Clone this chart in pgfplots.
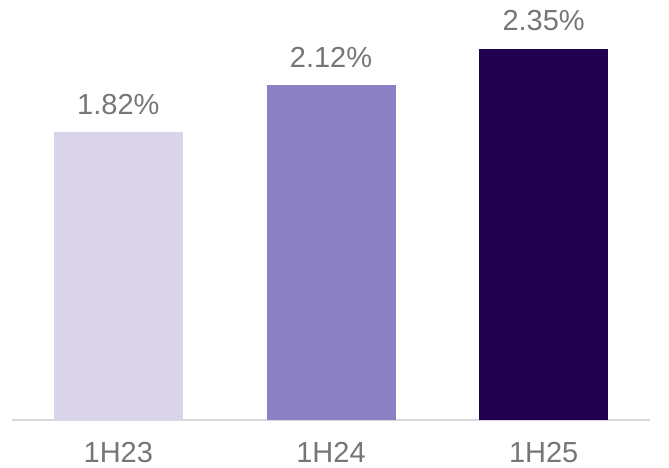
\documentclass[border=0pt]{standalone}
\usepackage{fontspec}
\setmainfont{Liberation Sans}
\usepackage{pgfplots}
\pgfplotsset{compat=1.18}
\definecolor{barA}{HTML}{D9D4EA}
\definecolor{barB}{HTML}{8C80C4}
\definecolor{barC}{HTML}{20004F}
\definecolor{txt}{HTML}{767676}
\definecolor{axl}{HTML}{D9D9D9}
\begin{document}
\begin{tikzpicture}
\useasboundingbox (0,0) rectangle (669pt,468pt);
\begin{axis}[
  at={(12pt,48pt)}, anchor=south west,
  width=638pt, height=420pt, scale only axis,
  xmin=-0.5, xmax=2.5, ymin=0, ymax=2.658,
  clip=false,
  axis x line*=bottom,
  axis line style={draw=axl, line width=1.2pt, -},
  hide y axis,
  xtick={0,1,2}, xticklabels={1H23,1H24,1H25},
  major tick length=0pt,
  xticklabel style={anchor=base, yshift=-43pt, font=\fontsize{29}{32}\selectfont, text=txt},
  ybar, bar width=129pt, bar shift=0pt,
  nodes near coords={\pgfmathprintnumber[fixed,fixed zerofill,precision=2,assume math mode=true]{\pgfplotspointmeta}\%},
  every node near coord/.append style={anchor=base, yshift=18pt, inner sep=0pt, font=\fontsize{29}{32}\selectfont, text=txt},
]
\addplot[fill=barA, draw=none] coordinates {(0,1.82)};
\addplot[fill=barB, draw=none] coordinates {(1,2.12)};
\addplot[fill=barC, draw=none] coordinates {(2,2.35)};
\end{axis}
\end{tikzpicture}
\end{document}
